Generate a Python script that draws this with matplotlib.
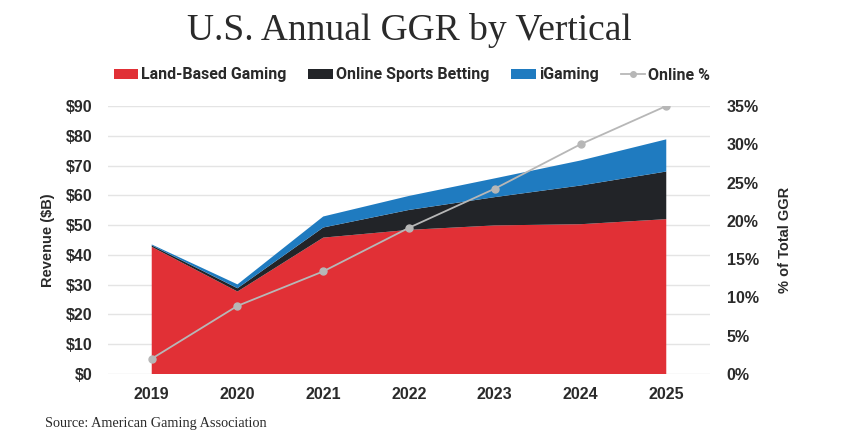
import matplotlib
matplotlib.use("Agg")
import matplotlib.pyplot as plt
from matplotlib.patches import Patch
from matplotlib.lines import Line2D
import numpy as np

# ---- data ----
years = ["2019", "2020", "2021", "2022", "2023", "2024", "2025"]
land_based = [42.7, 27.7, 45.8, 48.4, 49.9, 50.3, 52.0]
online_sports = [0.5, 1.1, 3.4, 6.7, 9.5, 13.0, 16.0]
igaming = [0.3, 1.3, 3.7, 4.7, 6.3, 8.4, 10.8]
online_pct = [2.0, 8.9, 13.4, 19.1, 24.2, 30.0, 35.0]

left_ticks = [0, 10, 20, 30, 40, 50, 60, 70, 80, 90]
right_ticks = [0, 5, 10, 15, 20, 25, 30, 35]

series_labels = ["Land-Based Gaming", "Online Sports Betting", "iGaming", "Online %"]

# ---- style ----
RED = "#E13036"
BLACK = "#222428"
BLUE = "#1F7BC0"
GRAY = "#B7B7B7"
TXT = "#2A2A2A"
SANS = ["Liberation Sans", "DejaVu Sans"]
NARROW = ["Roboto", "DejaVu Sans"]
SERIF = ["Liberation Serif", "DejaVu Serif"]

fig = plt.figure(figsize=(8.42, 4.48), dpi=100)
fig.patch.set_facecolor("white")
ax = fig.add_axes([108/842, 1-374/448, (710-108)/842, (374-106)/448])

x = np.arange(len(years))
ax.stackplot(x, land_based, online_sports, igaming,
             colors=[RED, BLACK, BLUE], linewidth=0, zorder=2)

ax.set_xlim(-0.51, len(years) - 0.49)
ax.set_ylim(0, 90)
ax.set_yticks(left_ticks)
ax.set_yticklabels([f"${v}" for v in left_ticks])
ax.set_xticks(x)
ax.set_xticklabels(years)
ax.set_axisbelow(True)
ax.grid(axis="y", color="#E4E4E4", linewidth=1.0, zorder=0)
for s in ax.spines.values():
    s.set_visible(False)
ax.tick_params(axis="both", length=0, labelcolor=TXT)
ax.tick_params(axis="y", pad=11)
ax.tick_params(axis="x", pad=9)
for lab in ax.get_yticklabels() + ax.get_xticklabels():
    lab.set_family(SANS)
    lab.set_fontweight("bold")
    lab.set_fontsize(11.5)
ax.set_ylabel("Revenue ($B)", family=SANS, fontweight="bold", fontsize=10.5,
              color=TXT, labelpad=8)

ax2 = ax.twinx()
ax2.plot(x, online_pct, color=GRAY, linewidth=1.3, marker="o", markersize=5,
         markerfacecolor=GRAY, markeredgecolor=GRAY, zorder=5)
ax2.set_ylim(0, 35)
ax2.set_yticks(right_ticks)
ax2.set_yticklabels([f"{v}%" for v in right_ticks])
for s in ax2.spines.values():
    s.set_visible(False)
ax2.tick_params(axis="y", length=0, pad=12, labelcolor=TXT)
for lab in ax2.get_yticklabels():
    lab.set_family(SANS)
    lab.set_fontweight("bold")
    lab.set_fontsize(11.5)
ax2.set_ylabel("% of Total GGR", family=SANS, fontweight="bold", fontsize=10.5,
               color=TXT, labelpad=14)

# title
fig.text(409/842, 1-30/448, "U.S. Annual GGR by Vertical", family=SERIF,
         fontsize=27, color=TXT, ha="center", va="center")

# legend
handles = [Patch(facecolor=RED, edgecolor="none"),
           Patch(facecolor=BLACK, edgecolor="none"),
           Patch(facecolor=BLUE, edgecolor="none"),
           Line2D([0], [0], color=GRAY, linewidth=1.3, marker="o", markersize=4)]
leg = fig.legend(handles, series_labels, loc="center", ncol=4,
                 bbox_to_anchor=(412/842, 1-75/448), frameon=False,
                 handlelength=1.55, handleheight=0.55, handletextpad=0.2,
                 columnspacing=1.35, borderpad=0,
                 prop={"family": NARROW, "weight": "bold", "size": 11.5})
for t in leg.get_texts():
    t.set_color(TXT)

fig.text(45/842, 1-423/448, "Source: American Gaming Association", family=SERIF,
         fontsize=10.3, color=TXT, ha="left", va="center")

fig.savefig("out.png", dpi=100, facecolor="white")
